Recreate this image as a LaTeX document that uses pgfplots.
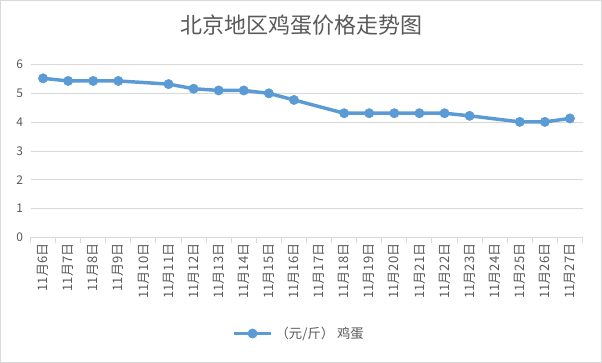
\documentclass[border=0pt]{standalone}
\usepackage{fontspec}
\setmainfont{Noto Sans CJK SC}
\usepackage{pgfplots}
\pgfplotsset{compat=1.18}
\definecolor{txt}{HTML}{595959}
\definecolor{grid}{HTML}{D9D9D9}
\definecolor{ser}{HTML}{5B9BD5}
\begin{document}
\begin{tikzpicture}
\draw[color=grid, line width=0.75pt] (-22.5pt,-93.75pt) rectangle (428.25pt,177.75pt);
\begin{axis}[
  at={(0,0)}, anchor=south west,
  scale only axis, width=414pt, height=129.75pt,
  xmin=-0.5, xmax=21.5, ymin=0, ymax=6,
  ytick={0,1,...,6},
  ymajorgrids, major grid style={color=grid, line width=0.6pt},
  axis line style={draw=none},
  axis x line*=bottom,
  x axis line style={draw=grid, line width=0.8pt},
  y axis line style={draw=none},
  major tick length=0pt,
  xtick={0,...,21},
  xticklabels={11月6日,11月7日,11月8日,11月9日,11月10日,11月11日,11月12日,11月13日,11月14日,11月15日,11月16日,11月17日,11月18日,11月19日,11月20日,11月21日,11月22日,11月23日,11月24日,11月25日,11月26日,11月27日},
  x tick label style={rotate=90, anchor=east, font=\fontsize{9.8}{11}\selectfont, text=txt, xshift=-1pt},
  y tick label style={font=\fontsize{9}{10}\selectfont, text=txt, xshift=-2pt},
  /pgf/number format/assume math mode=true,
  extra x ticks={-0.5,0.5,...,21.5},
  extra x tick labels={},
  extra x tick style={major tick length=4pt, tick align=outside, tick pos=bottom, grid=none, major tick style={color=grid, line width=0.8pt}},
  legend style={at={(0.487,-0.555)}, anchor=center, draw=none, fill=none, font=\fontsize{10}{12}\selectfont, text=txt, legend cell align=left},
  legend image code/.code={\draw[#1, line width=2.6pt] (0pt,0pt) -- (28pt,0pt); \path[#1, mark repeat=1] plot coordinates {(14pt,0pt)};},
  clip=false,
]
\addplot[color=ser, line width=2.6pt, mark=*, mark size=3.5pt, mark options={solid, fill=ser, draw=ser, line width=0.4pt}] coordinates {
(0,5.52) (1,5.43) (2,5.43) (3,5.43) (5,5.32) (6,5.16) (7,5.10) (8,5.10) (9,5.00) (10,4.77)
(12,4.31) (13,4.31) (14,4.31) (15,4.31) (16,4.31) (17,4.22) (19,4.01) (20,4.01) (21,4.13)
};
\addlegendentry{（元/斤） 鸡蛋}
\end{axis}
\node[text=txt, font=\fontsize{16.5}{18}\selectfont] at (203.25pt,159pt) {北京地区鸡蛋价格走势图};
\end{tikzpicture}
\end{document}
